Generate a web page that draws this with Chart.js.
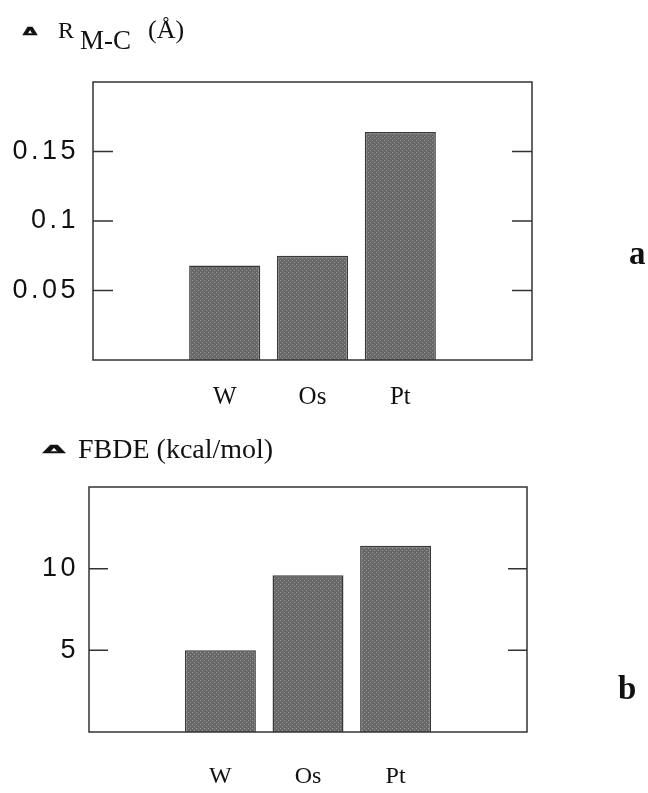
<!DOCTYPE html>
<html>
<head>
<meta charset="utf-8">
<script src="https://cdn.jsdelivr.net/npm/chart.js@4.4.0/dist/chart.umd.min.js"></script>
<style>
  html, body { margin: 0; padding: 0; background: #fff; }
  body { width: 648px; height: 793px; position: relative; overflow: hidden; }
  .t { position: absolute; font-family: 'Liberation Serif', 'Times New Roman', serif; line-height: 1; white-space: nowrap; color: #111; }
  .d { position: absolute; font-family: 'DejaVu Sans', sans-serif; font-weight: bold; line-height: 1; color: #111; transform-origin: left top; -webkit-text-stroke: 0.9px #111; }
  #w1 { position: absolute; left: 0; top: 0; width: 648px; height: 420px; }
  #w2 { position: absolute; left: 0; top: 420px; width: 648px; height: 373px; }
</style>
</head>
<body>
<div id="w1"><canvas id="c1"></canvas></div>
<div id="w2"><canvas id="c2"></canvas></div>

<span class="d" style="left:23px;top:26.9px;font-size:14px;transform:scale(1.3,0.7)">Δ</span>
<span class="t" style="left:58px;top:18.2px;font-size:24px">R</span>
<span class="t" style="left:80px;top:27.4px;font-size:27px">M-C</span>
<span class="t" style="left:148px;top:17.2px;font-size:26px">(Å)</span>

<span class="d" style="left:43px;top:443.7px;font-size:16px;transform:scale(1.78,0.69)">Δ</span>
<span class="t" style="left:78px;top:434.5px;font-size:28px">FBDE (kcal/mol)</span>

<span class="t" style="left:629px;top:237.4px;font-size:33px;font-weight:bold">a</span>
<span class="t" style="left:618px;top:672.4px;font-size:33px;font-weight:bold">b</span>

<script>
// ---- data ----
const categories = ['', 'W', 'Os', 'Pt', ''];
const deltaRMC = [null, 0.068, 0.075, 0.164, null];   // Δ R(M-C), Å
const deltaFBDE = [null, 5.0, 9.6, 11.4, null];       // Δ FBDE, kcal/mol
const tickValuesA = [0.05, 0.1, 0.15];
const tickLabelsA = ['0.05', '0.1', '0.15'];
const tickValuesB = [5, 10];
const tickLabelsB = ['5', '10'];

const BAR_EDGE = '#3a3a3a';
const LINE = '#333';

function stipple() {
  const c = document.createElement('canvas');
  c.width = 4; c.height = 4;
  const g = c.getContext('2d');
  g.fillStyle = '#686868'; g.fillRect(0, 0, 4, 4);
  g.fillStyle = '#9a9a9a'; g.fillRect(0, 0, 1, 1); g.fillRect(2, 2, 1, 1);
  return g.createPattern(c, 'repeat');
}
const BAR_FILL = stipple();

const spacingPlugin = {
  id: 'ySpacing',
  afterUpdate(chart) {
    const s = chart.scales.y;
    if (s && !s.__spaced) {
      const orig = s.drawLabels;
      s.drawLabels = function (ca) {
        const c = this.ctx;
        c.save();
        c.letterSpacing = '3.5px';
        orig.call(this, ca);
        c.restore();
      };
      s.__spaced = true;
    }
  }
};

const framePlugin = {
  id: 'frame',
  afterDatasetsDraw(chart, args, opts) {
    const { ctx, chartArea: a } = chart;
    const y = chart.scales.y;
    ctx.save();
    ctx.strokeStyle = LINE;
    ctx.lineWidth = 1.5;
    ctx.strokeRect(a.left, a.top, a.right - a.left, a.bottom - a.top);
    y.ticks.forEach(t => {
      const py = y.getPixelForValue(t.value);
      ctx.beginPath();
      ctx.moveTo(a.left, py); ctx.lineTo(a.left + opts.len, py);
      ctx.moveTo(a.right, py); ctx.lineTo(a.right - opts.len, py);
      ctx.stroke();
    });
    ctx.restore();
  }
};

function makeChart(id, values, yMax, tickVals, tickLabels, cfg) {
  return new Chart(document.getElementById(id), {
    type: 'bar',
    data: {
      labels: categories,
      datasets: [{
        data: values,
        backgroundColor: BAR_FILL,
        borderColor: BAR_EDGE,
        borderWidth: 1.5,
        barPercentage: 0.81,
        categoryPercentage: 1.0
      }]
    },
    options: {
      responsive: true,
      maintainAspectRatio: false,
      animation: false,
      events: [],
      layout: { padding: { left: 0, right: cfg.right, top: cfg.top, bottom: 0 } },
      plugins: { legend: { display: false }, tooltip: { enabled: false }, frame: { len: cfg.tick } },
      scales: {
        x: {
          grid: { display: false, drawTicks: false },
          border: { display: false },
          afterFit: s => { s.height = cfg.xh; },
          ticks: {
            padding: cfg.xpad, color: '#111', maxRotation: 0, autoSkip: false,
            font: { family: "'Liberation Serif', 'Times New Roman', serif", size: cfg.xfont }
          }
        },
        y: {
          min: 0, max: yMax,
          grid: { display: false, drawTicks: false },
          border: { display: false },
          afterBuildTicks: s => { s.ticks = tickVals.map(v => ({ value: v })); },
          afterFit: s => { s.width = cfg.yw; },
          ticks: {
            padding: cfg.ypad, color: '#111',
            font: { family: "'Liberation Sans', Arial, sans-serif", size: 27 },
            callback: (v, i) => tickLabels[i]
          }
        }
      }
    },
    plugins: [spacingPlugin, framePlugin]
  });
}

makeChart('c1', deltaRMC, 0.2, tickValuesA, tickLabelsA,
  { right: 116, top: 82, xh: 60, xpad: 22, xfont: 25, yw: 93, ypad: 14, tick: 20 });
makeChart('c2', deltaFBDE, 15, tickValuesB, tickLabelsB,
  { right: 121, top: 67, xh: 61, xpad: 30, xfont: 24, yw: 89, ypad: 10, tick: 19 });
</script>
</body>
</html>
